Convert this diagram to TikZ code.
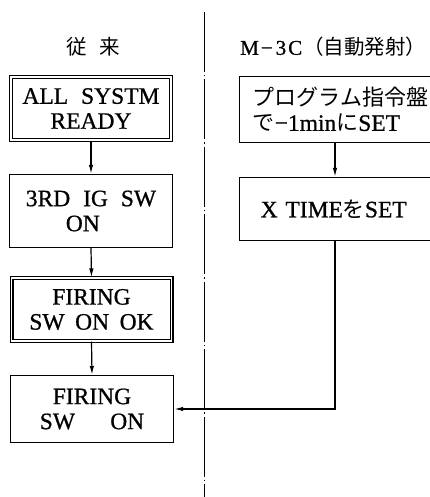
\documentclass[tikz,border=0pt]{standalone}
\usepackage{fontspec}
\setmainfont[FakeBold=0.8]{Liberation Serif}
\newfontfamily\jpfont{Noto Sans CJK JP}
\usetikzlibrary{arrows.meta}
\newcommand\J[1]{{\jpfont\fontsize{22}{25}\selectfont #1}}
\begin{document}
\begin{tikzpicture}[x=1pt,y=1pt,
  box/.style={draw, line width=1.4pt, inner sep=0pt, font=\fontsize{23.5}{25}\selectfont, align=center},
  dbox/.style={box, double, double distance=1.6pt, line width=1.2pt},
  rbox/.style={box, anchor=west, align=left, text width=180pt, inner xsep=13.5pt},
  arr/.style={-{Latex[length=9pt,width=4.5pt]}, line width=1.2pt},
  divider/.style={line width=1pt, dash pattern=on 60pt off 3pt on 1.5pt off 3pt},
  ]
\useasboundingbox (0,0) rectangle (430,497);
\clip (0,0) rectangle (430,497);

% titles
\node (t1) at (93,450) {\jpfont\fontsize{20.5}{22}\selectfont 従\hspace{0.6em}来};
\node[anchor=west, inner sep=0pt] (t2) at (240,450)
  {\fontsize{21}{24}\selectfont M\kern2pt−\kern3pt3\kern2ptC\kern1pt{\jpfont\fontsize{20.5}{24}\selectfont （自動発射）}};

% divider
\coordinate (dtop) at (204,485);
\coordinate (dbot) at (204,0);
\draw[divider] (dtop) -- (dbot);

% left column
\node[dbox, minimum width=160pt, minimum height=63pt] (a1) at (91,388.5)
  {ALL\hspace{0.55em}SYSTM\\READY};
\node[box, align=left, minimum width=163pt, minimum height=73pt] (a2) at (91,286)
  {3RD\hspace{0.55em}IG\hspace{0.55em}SW\\\hspace*{40pt}ON};
\node[dbox, minimum width=160pt, minimum height=63pt] (a3) at (91.5,187.5)
  {FIRING\\SW\hspace{0.45em}ON\hspace{0.45em}OK};
\node[box, minimum width=163pt, minimum height=67pt] (a4) at (92,88)
  {FIRING\\SW\hspace{1.5em}ON};

% right column
\node[rbox, minimum height=66pt] (b1) at (238.5,387.5)
  {\J{プログラム指令盤}\\\J{で}−1min\J{に}SET};
\node[rbox, minimum height=63pt] (b2) at (238.5,288)
  {\hspace*{8pt}X TIME\J{を}SET};

\coordinate (tx) at (335,0);

% connectors
\draw[arr] (a1.south) -- (a2.north);
\draw[arr] (a2.south) -- (a3.north);
\draw[arr] (a3.south) -- (a4.north);
\draw[arr] (b1.south -| tx) -- (b2.north -| tx);
\draw[arr] (b2.south -| tx) |- (a4.east);
\end{tikzpicture}
\end{document}
